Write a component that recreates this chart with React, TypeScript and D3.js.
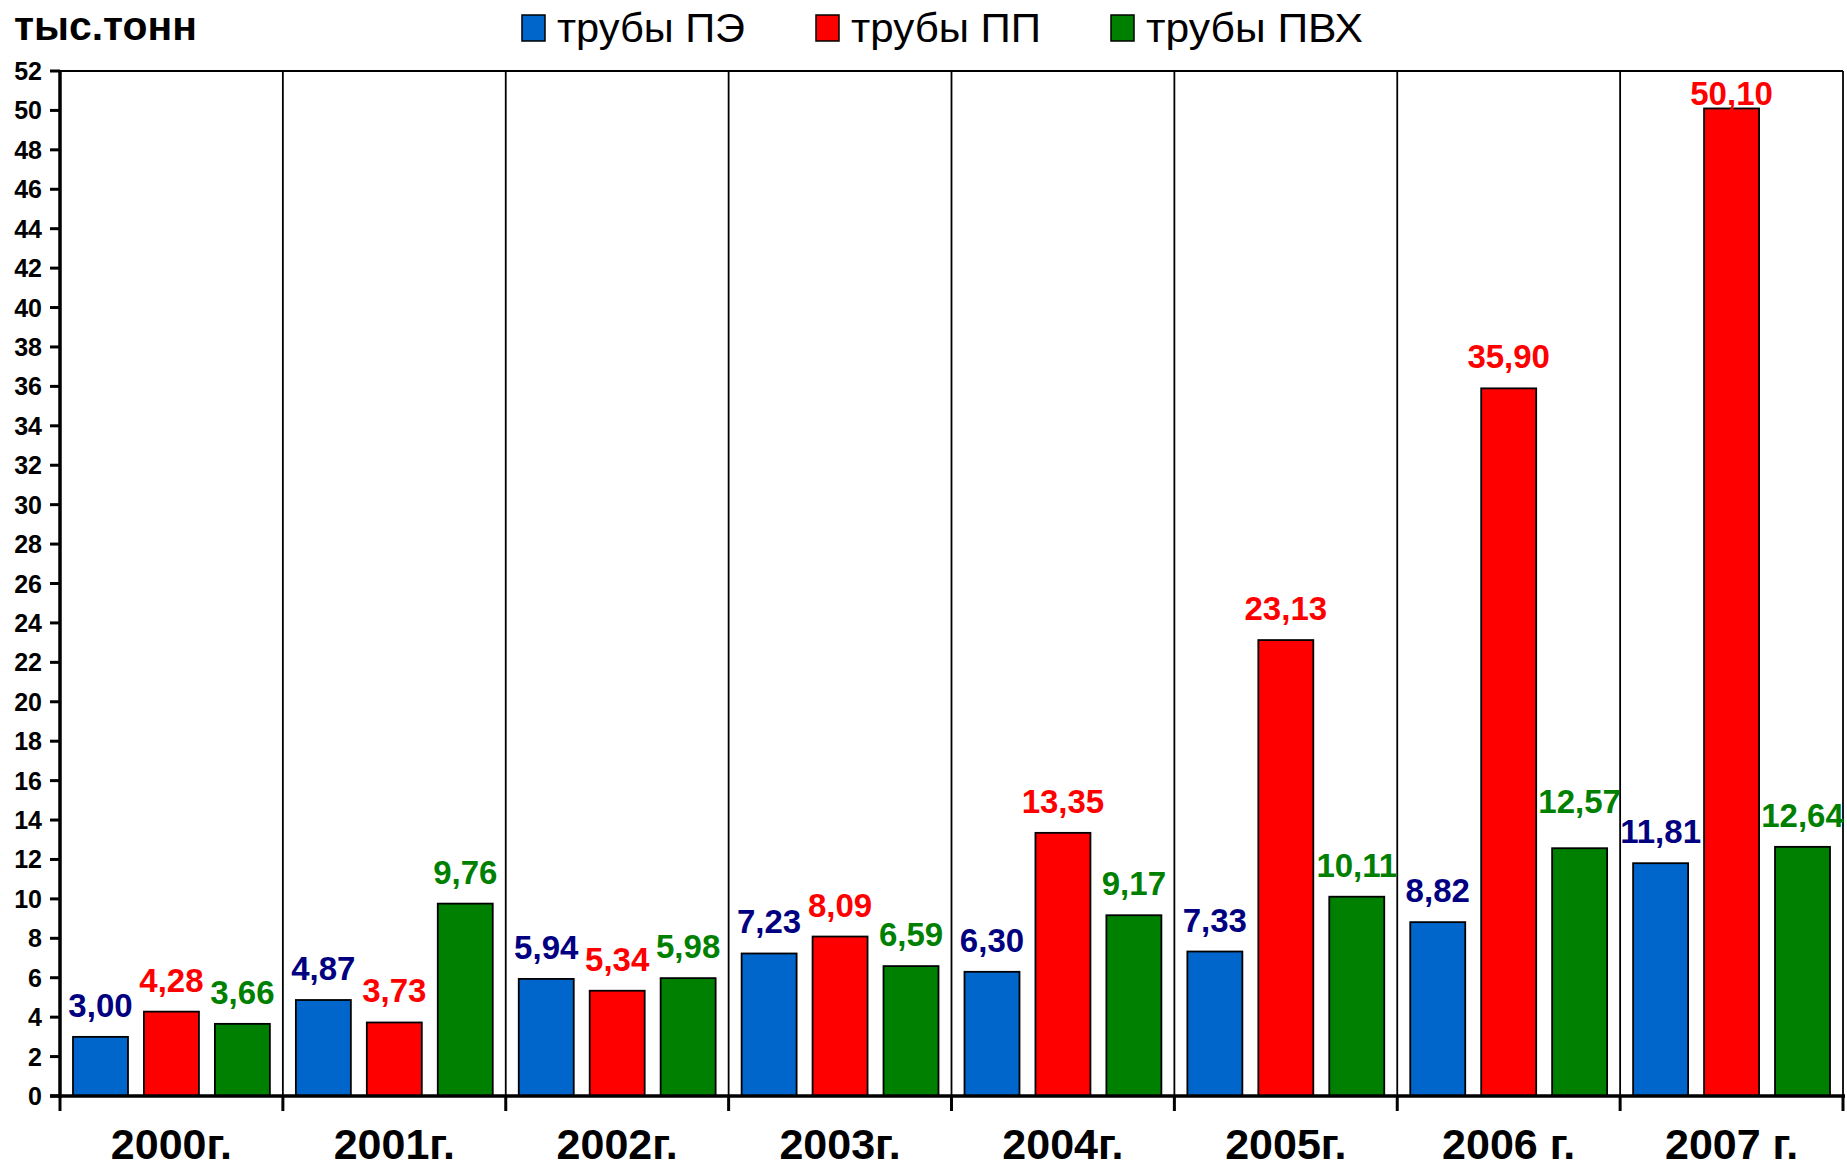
import React from "react";
import * as d3 from "d3";

const categories = ["2000г.", "2001г.", "2002г.", "2003г.", "2004г.", "2005г.", "2006 г.", "2007 г."];
const seriesNames = ["трубы ПЭ", "трубы ПП", "трубы ПВХ"];
const pe = [3.0, 4.87, 5.94, 7.23, 6.3, 7.33, 8.82, 11.81];
const pp = [4.28, 3.73, 5.34, 8.09, 13.35, 23.13, 35.9, 50.1];
const pvc = [3.66, 9.76, 5.98, 6.59, 9.17, 10.11, 12.57, 12.64];
const yTicks = d3.range(0, 53, 2);
const unitLabel = "тыс.тонн";

const barColors = ["#0066CC", "#FF0000", "#008000"];
const labelColors = ["#000080", "#FF0000", "#008000"];

const W = 1847;
const H = 1169;
const left = 60;
const right = 1843;
const top = 71;
const bottom = 1096;
const FONT = "'Liberation Sans', Arial, sans-serif";

export default function App() {
  const values = [pe, pp, pvc];
  const x0 = d3.scaleBand<string>().domain(categories).range([left, right]).padding(0);
  const bw = x0.bandwidth();
  const x1 = d3
    .scaleBand<string>()
    .domain(seriesNames)
    .range([13, bw - 13])
    .paddingInner(0.225)
    .paddingOuter(0);
  const y = d3.scaleLinear().domain([0, 52]).range([bottom, top]);
  const fmt = (v: number) => v.toFixed(2).replace(".", ",");

  // manual nudge for an overlapping label (Excel-style)
  const nudge = (s: number, i: number) => (s === 2 && i === 6 ? -15 : 0);

  const boundaries = d3.range(0, categories.length + 1).map((i) => left + i * bw);

  return (
    <svg
      width={W}
      height={H}
      style={{ position: "absolute", left: 0, top: 0, background: "#fff" }}
      fontFamily={FONT}
    >
      <rect x={0} y={0} width={W} height={H} fill="#fff" />
      {/* title */}
      <text x={14} y={40} fontSize={41} fontWeight="bold" fill="#000" textLength={183} lengthAdjust="spacingAndGlyphs">
        {unitLabel}
      </text>

      {/* legend */}
      {seriesNames.map((s, i) => {
        const lx = [522, 816, 1111][i];
        const tw = [188, 190, 217][i];
        return (
          <g key={s}>
            <rect x={lx} y={15} width={23} height={26} fill={barColors[i]} stroke="#000" strokeWidth={1.5} />
            <text x={lx + 35} y={42} fontSize={40} fill="#000" textLength={tw} lengthAdjust="spacingAndGlyphs">
              {s}
            </text>
          </g>
        );
      })}

      {/* plot frame top */}
      <line x1={left} x2={right} y1={top} y2={top} stroke="#000" strokeWidth={2} />
      {/* separators */}
      {boundaries.slice(1).map((bx, i) => (
        <line key={i} x1={bx} x2={bx} y1={top} y2={bottom} stroke="#000" strokeWidth={1.8} />
      ))}

      {/* bars */}
      {categories.map((c, ci) => (
        <g key={c} transform={`translate(${x0(c)},0)`}>
          {values.map((arr, si) => {
            const v = arr[ci];
            const bx = x1(seriesNames[si])!;
            return (
              <rect
                key={si}
                x={bx}
                y={y(v)}
                width={x1.bandwidth()}
                height={bottom - y(v)}
                fill={barColors[si]}
                stroke="#000"
                strokeWidth={1.8}
              />
            );
          })}
        </g>
      ))}

      {/* value labels */}
      {categories.map((c, ci) =>
        values.map((arr, si) => {
          const v = arr[ci];
          const cx = x0(c)! + x1(seriesNames[si])! + x1.bandwidth() / 2;
          const by = Math.max(y(v) - 20, top + 34) + nudge(si, ci);
          return (
            <text
              key={`${ci}-${si}`}
              x={cx}
              y={by}
              textAnchor="middle"
              fontSize={33}
              fontWeight="bold"
              fill={labelColors[si]}
            >
              {fmt(v)}
            </text>
          );
        })
      )}

      {/* y axis */}
      <line x1={left} x2={left} y1={top - 1} y2={bottom + 2} stroke="#000" strokeWidth={3.5} />
      {yTicks.map((t) => (
        <g key={t}>
          <line x1={left - 10} x2={left} y1={y(t)} y2={y(t)} stroke="#000" strokeWidth={3} />
          <text
            x={left - 18}
            y={y(t)}
            dy="0.36em"
            textAnchor="end"
            fontSize={25}
            fontWeight="bold"
            fill="#000"
          >
            {t}
          </text>
        </g>
      ))}

      {/* x axis */}
      <line x1={left - 10} x2={right + 2} y1={bottom} y2={bottom} stroke="#000" strokeWidth={3.5} />
      {boundaries.map((bx, i) => (
        <line key={i} x1={bx} x2={bx} y1={bottom} y2={bottom + 15} stroke="#000" strokeWidth={3} />
      ))}
      {categories.map((c) => (
        <text
          key={c}
          x={x0(c)! + bw / 2}
          y={1159}
          textAnchor="middle"
          fontSize={43}
          fontWeight="bold"
          fill="#000"
        >
          {c}
        </text>
      ))}
    </svg>
  );
}
